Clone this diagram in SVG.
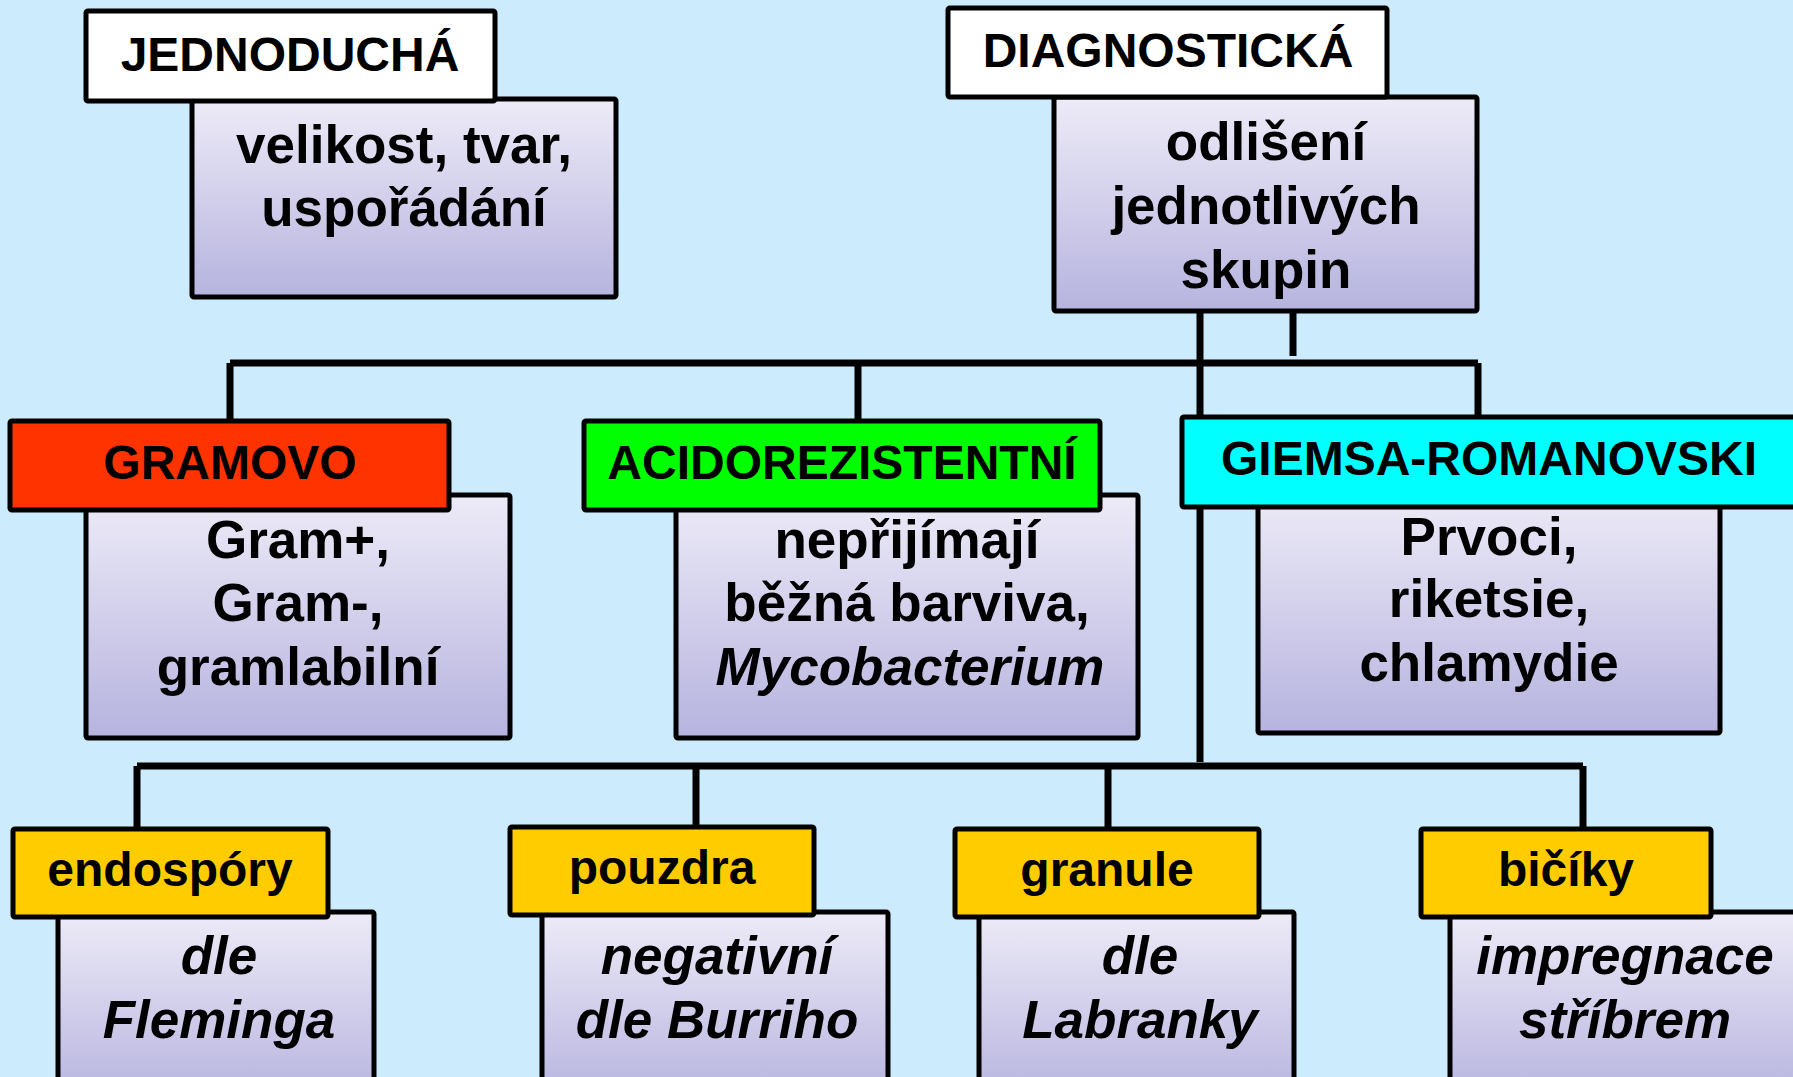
<svg xmlns="http://www.w3.org/2000/svg" width="1793" height="1077" viewBox="0 0 1793 1077">
<defs>
<linearGradient id="lav" x1="0" y1="0" x2="0" y2="1">
<stop offset="0" stop-color="#EDEBF7"/>
<stop offset="1" stop-color="#B6B3DF"/>
</linearGradient>
<style>
.bd{fill:url(#lav);stroke:#000;stroke-width:5}
.hd{stroke:#000;stroke-width:5}
.t{font-family:"Liberation Sans",Arial,sans-serif;font-weight:bold;fill:#000;text-anchor:middle}
.h{font-size:48px}
.b{font-size:53px}
.i{font-style:italic}
.cn{stroke:#000;stroke-width:7;fill:none}
</style>
</defs>
<rect x="0" y="0" width="1793" height="1077" fill="#CCEBFD"/>

<g id="connectors">
<path class="cn" d="M1200 311 V762"/>
<path class="cn" d="M1293 311 V356"/>
<path class="cn" d="M230 363 H1478"/>
<path class="cn" d="M230 363 V421 M858 363 V421 M1478 363 V417"/>
<path class="cn" d="M137 766 H1583"/>
<path class="cn" d="M137 766 V829 M696 766 V827 M1108 766 V829 M1583 766 V829"/>
</g>

<g id="jednoducha">
<rect class="bd" x="192" y="99" width="424" height="198" rx="2"/>
<rect class="hd" x="86" y="11" width="409" height="90" rx="2" fill="#FFFFFF"/>
<text class="t h" x="290" y="71">JEDNODUCHÁ</text>
<text class="t b" x="404" y="163">velikost, tvar,</text>
<text class="t b" x="404" y="226">uspořádání</text>
</g>

<g id="diagnosticka">
<rect class="bd" x="1054" y="97" width="423" height="214" rx="2"/>
<rect class="hd" x="948" y="8" width="439" height="89" rx="2" fill="#FFFFFF"/>
<text class="t h" x="1168" y="67">DIAGNOSTICKÁ</text>
<text class="t b" x="1266" y="160">odlišení</text>
<text class="t b" x="1266" y="224">jednotlivých</text>
<text class="t b" x="1266" y="288">skupin</text>
</g>

<g id="gramovo">
<rect class="bd" x="86" y="495" width="424" height="243" rx="2"/>
<rect class="hd" x="10" y="421" width="439" height="89" rx="2" fill="#FF3300"/>
<text class="t h" x="230" y="479">GRAMOVO</text>
<text class="t b" x="298" y="558">Gram+,</text>
<text class="t b" x="298" y="621">Gram-,</text>
<text class="t b" x="298" y="685">gramlabilní</text>
</g>

<g id="acidorezistentni">
<rect class="bd" x="676" y="495" width="462" height="243" rx="2"/>
<rect class="hd" x="584" y="421" width="516" height="89" rx="2" fill="#00FF00"/>
<text class="t h" x="842" y="479">ACIDOREZISTENTNÍ</text>
<text class="t b" x="907" y="558">nepřijímají</text>
<text class="t b" x="907" y="621">běžná barviva,</text>
<text class="t b i" x="910" y="685">Mycobacterium</text>
</g>

<g id="giemsa">
<rect class="bd" x="1258" y="492" width="462" height="241" rx="2"/>
<rect class="hd" x="1182" y="417" width="620" height="90" rx="2" fill="#00FFFF"/>
<text class="t h" x="1489" y="475">GIEMSA-ROMANOVSKI</text>
<text class="t b" x="1489" y="555">Prvoci,</text>
<text class="t b" x="1489" y="617">riketsie,</text>
<text class="t b" x="1489" y="681">chlamydie</text>
</g>

<g id="endospory">
<rect class="bd" x="58" y="912" width="316" height="190" rx="2"/>
<rect class="hd" x="13" y="829" width="315" height="88" rx="2" fill="#FFCC00"/>
<text class="t h" x="170" y="886">endospóry</text>
<text class="t b i" x="219" y="974">dle</text>
<text class="t b i" x="219" y="1038">Fleminga</text>
</g>

<g id="pouzdra">
<rect class="bd" x="542" y="912" width="346" height="190" rx="2"/>
<rect class="hd" x="510" y="827" width="304" height="88" rx="2" fill="#FFCC00"/>
<text class="t h" x="662" y="884">pouzdra</text>
<text class="t b i" x="717" y="974">negativní</text>
<text class="t b i" x="717" y="1038">dle Burriho</text>
</g>

<g id="granule">
<rect class="bd" x="979" y="912" width="315" height="190" rx="2"/>
<rect class="hd" x="955" y="829" width="304" height="88" rx="2" fill="#FFCC00"/>
<text class="t h" x="1107" y="886">granule</text>
<text class="t b i" x="1140" y="974">dle</text>
<text class="t b i" x="1140" y="1038">Labranky</text>
</g>

<g id="bicikly">
<rect class="bd" x="1450" y="912" width="360" height="190" rx="2"/>
<rect class="hd" x="1421" y="829" width="290" height="88" rx="2" fill="#FFCC00"/>
<text class="t h" x="1566" y="886">bičíky</text>
<text class="t b i" x="1625" y="974">impregnace</text>
<text class="t b i" x="1625" y="1038">stříbrem</text>
</g>
</svg>
